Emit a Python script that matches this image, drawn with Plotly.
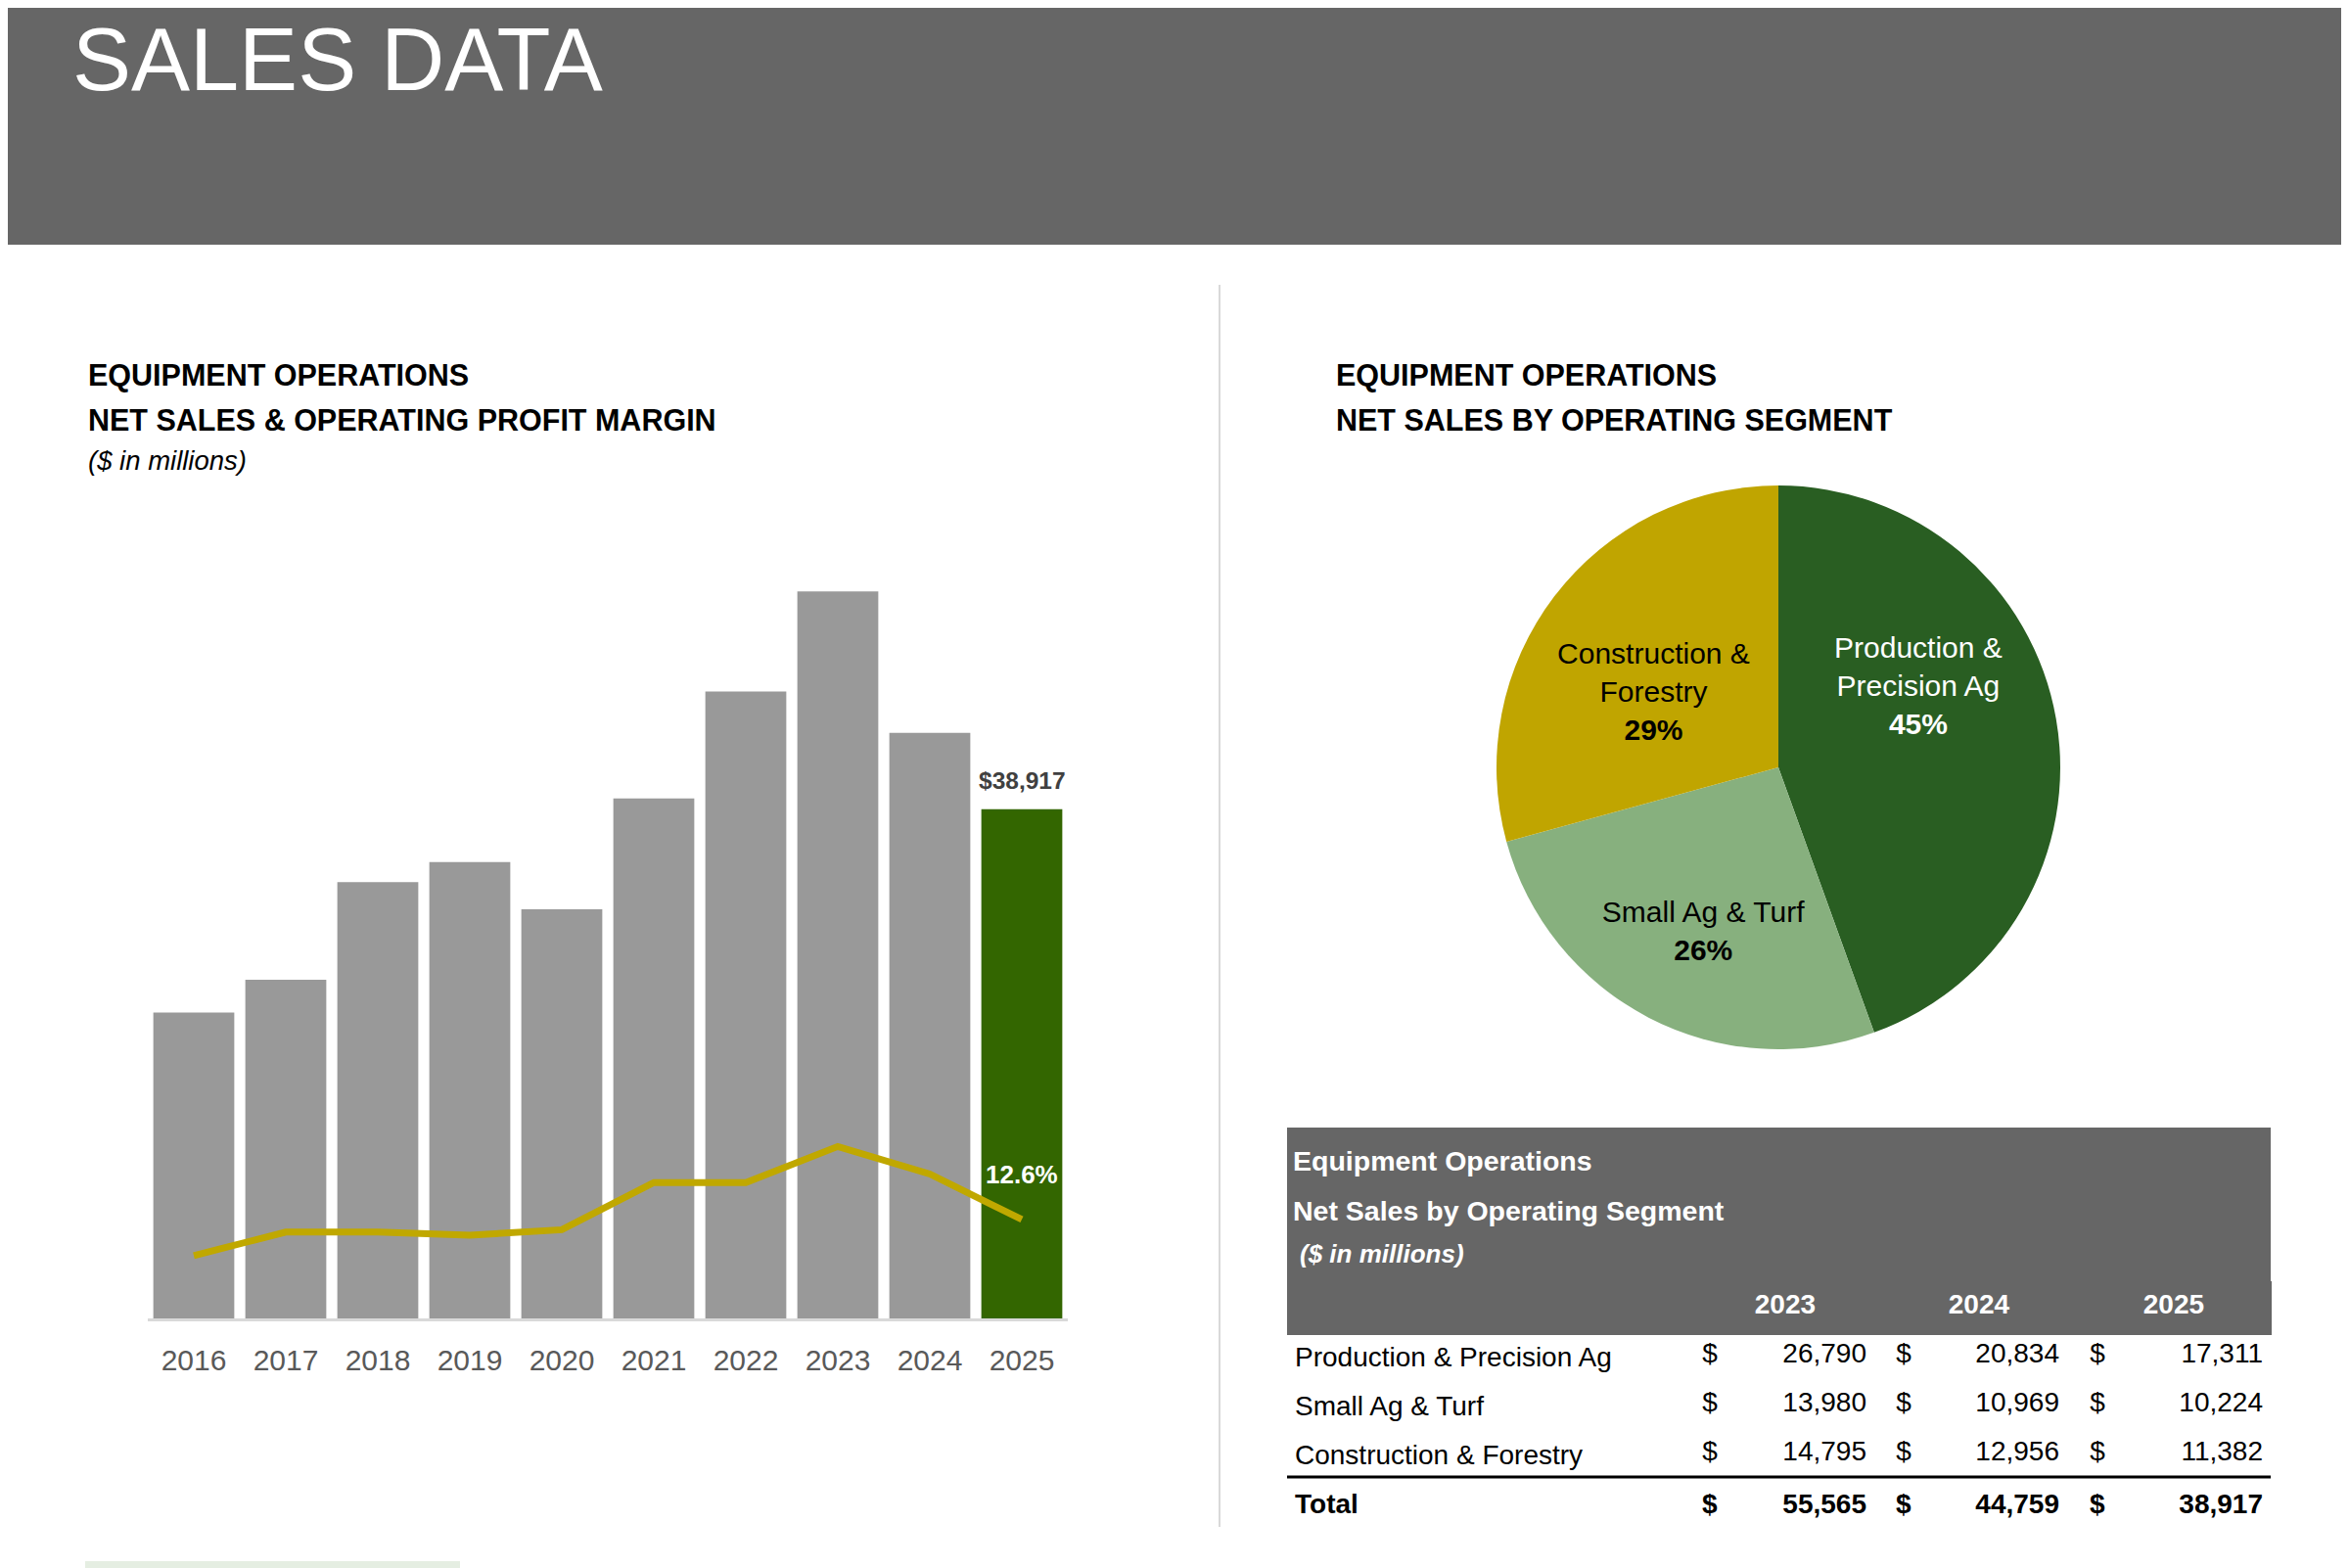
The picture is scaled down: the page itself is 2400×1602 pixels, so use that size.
import plotly.graph_objects as go

# data
years = ["2016", "2017", "2018", "2019", "2020", "2021", "2022", "2023", "2024", "2025"]
net_sales = [23387, 25885, 33351, 34886, 31272, 39737, 47917, 55565, 44759, 38917]
op_margin = [8.0, 11.0, 11.0, 10.6, 11.3, 17.3, 17.3, 21.9, 18.4, 12.6]

segments = ["Production & Precision Ag", "Small Ag & Turf", "Construction & Forestry"]
pie_labels = ["Production &<br>Precision Ag", "Small Ag & Turf", "Construction &<br>Forestry"]
pie_pct = ["45%", "26%", "29%"]

table_years = ["2023", "2024", "2025"]
sales_2023 = [26790, 13980, 14795]
sales_2024 = [20834, 10969, 12956]
sales_2025 = [17311, 10224, 11382]
totals = [55565, 44759, 38917]

FONT = "Liberation Sans Narrow, Arial Narrow, Liberation Sans, Arial, sans-serif"
W, H = 2400, 1602
OFF = 8  # page body margin


def px(x):
    return (x - OFF) / W


def py(y):
    return 1 - (y - OFF) / H


fig = go.Figure()

# bars + margin line
bar_colors = ["#999999"] * (len(years) - 1) + ["#336600"]
fig.add_trace(go.Bar(x=years, y=net_sales, marker=dict(color=bar_colors, line=dict(width=0)),
                     hoverinfo="skip", showlegend=False))
fig.add_trace(go.Scatter(x=years, y=op_margin, yaxis="y2", mode="lines",
                         line=dict(color="#C0A800", width=7), showlegend=False))

# pie: blank lines nudge the labels to where the source has them
pie_text = [f"{l}<br><b>{p}</b>" for l, p in zip(pie_labels, pie_pct)]
pie_text[0] += "<br>&nbsp;<br>&nbsp;<br>&nbsp;"
pie_text[1] = "&nbsp;<br>" + pie_text[1]
pie_text[2] = "&nbsp;<br>" + pie_text[2]
fig.add_trace(go.Pie(
    labels=segments, values=sales_2025, sort=False, direction="clockwise", rotation=0,
    text=pie_text, textinfo="text", textposition="inside", insidetextorientation="horizontal",
    insidetextfont=dict(family=FONT, size=30, color=["white", "black", "black"]),
    marker=dict(colors=["#295E22", "#87B07E", "#C0A500"], line=dict(width=0)),
    domain=dict(x=[px(1529), px(2105)], y=[py(1072), py(496)]),
    showlegend=False,
))

# table
def fmt(v, bold=False):
    s = f"{v:,}"
    return f"<b>{s}</b>" if bold else s

col_label = segments + ["<b>Total</b>"]
dollar = ["$"] * len(segments) + ["<b>$</b>"]
fig.add_trace(go.Table(
    domain=dict(x=[px(1315), px(2320)], y=[py(1566), py(1309)]),
    columnwidth=[402, 60, 138, 60, 137, 62, 146],
    header=dict(
        values=["", "", f"&nbsp;<b>{table_years[0]}</b>", "", f"&nbsp;<b>{table_years[1]}</b>", "",
                f"&nbsp;<b>{table_years[2]}</b>"],
        fill_color="#666666", line=dict(color="#666666", width=1),
        font=dict(family=FONT, size=28, color="white"), align="left", height=54,
    ),
    cells=dict(
        values=[col_label, dollar,
                [fmt(v) for v in sales_2023] + [fmt(totals[0], True)], dollar,
                [fmt(v) for v in sales_2024] + [fmt(totals[1], True)], dollar,
                [fmt(v) for v in sales_2025] + [fmt(totals[2], True)]],
        fill_color="white", line=dict(color="white", width=1),
        font=dict(family=FONT, size=28, color="black"),
        align=["left", "center", "right", "center", "right", "center", "right"], height=50,
    ),
))

shapes = [
    dict(type="rect", xref="paper", yref="paper", x0=0, x1=1, y0=py(250), y1=1,
         fillcolor="#666666", line=dict(width=0), layer="below"),
    dict(type="line", xref="paper", yref="paper", x0=px(1246), x1=px(1246), y0=py(291), y1=py(1560),
         line=dict(color="#D9D9D9", width=2)),
    dict(type="rect", xref="paper", yref="paper", x0=px(87), x1=px(470), y0=0, y1=py(1595),
         fillcolor="#E5EEE2", line=dict(width=0)),
    dict(type="rect", xref="paper", yref="paper", x0=px(1315), x1=px(2320), y0=py(1362), y1=py(1152),
         fillcolor="#666666", line=dict(width=0), layer="below"),
    dict(type="line", xref="paper", yref="paper", x0=px(1315), x1=px(2320), y0=py(1509), y1=py(1509),
         line=dict(color="black", width=3)),
]

ann = []


def note(text, x, y, size, color="black", xanchor="left", yanchor="middle"):
    ann.append(dict(text=text, x=px(x), y=py(y), xref="paper", yref="paper", xanchor=xanchor,
                    yanchor=yanchor, showarrow=False, font=dict(family=FONT, size=size, color=color)))


note("SALES DATA", 72, 9, 90, color="white", yanchor="top")
note("<b>EQUIPMENT OPERATIONS</b>", 88, 383, 30.5)
note("<b>NET SALES & OPERATING PROFIT MARGIN</b>", 88, 429, 30.5)
note("<i>($ in millions)</i>", 88, 471, 27.5)
note("<b>EQUIPMENT OPERATIONS</b>", 1363, 383, 30.5)
note("<b>NET SALES BY OPERATING SEGMENT</b>", 1363, 429, 30.5)
note("<b>Equipment Operations</b>", 1319, 1186, 28.5, color="white")
note("<b>Net Sales by Operating Segment</b>", 1319, 1237, 28.5, color="white")
note("<b><i>($ in millions)</i></b>", 1326, 1281, 26, color="white")

# data labels, placed on the last category through the axes
last = len(years) - 1
ann.append(dict(text=f"<b>${net_sales[-1]:,}</b>", x=last, y=net_sales[-1], xref="x", yref="y",
                yanchor="bottom", yshift=14, showarrow=False,
                font=dict(family=FONT, size=24.5, color="#404040")))
ann.append(dict(text=f"<b>{op_margin[-1]}%</b>", x=last, y=op_margin[-1], xref="x", yref="y2",
                yanchor="middle", yshift=46, showarrow=False,
                font=dict(family=FONT, size=26, color="white")))

fig.update_layout(
    width=W, height=H, autosize=False, margin=dict(l=0, r=0, t=0, b=0, pad=0),
    paper_bgcolor="white", plot_bgcolor="white",
    bargap=0.12,
    xaxis=dict(type="category", categoryorder="array", categoryarray=years,
               range=[-0.5, len(years) - 0.5], domain=[px(151), px(1091)],
               showgrid=False, showline=True, linecolor="#D9D9D9", linewidth=3, ticks="",
               ticklabelstandoff=14, automargin=False,
               tickfont=dict(family=FONT, size=30, color="#595959")),
    yaxis=dict(domain=[py(1347), py(545)], range=[0, 60000], visible=False, automargin=False),
    yaxis2=dict(domain=[py(1347), py(545)], range=[0, 100], overlaying="y", visible=False,
                automargin=False),
    shapes=shapes, annotations=ann,
)

fig.write_html("out.html")
